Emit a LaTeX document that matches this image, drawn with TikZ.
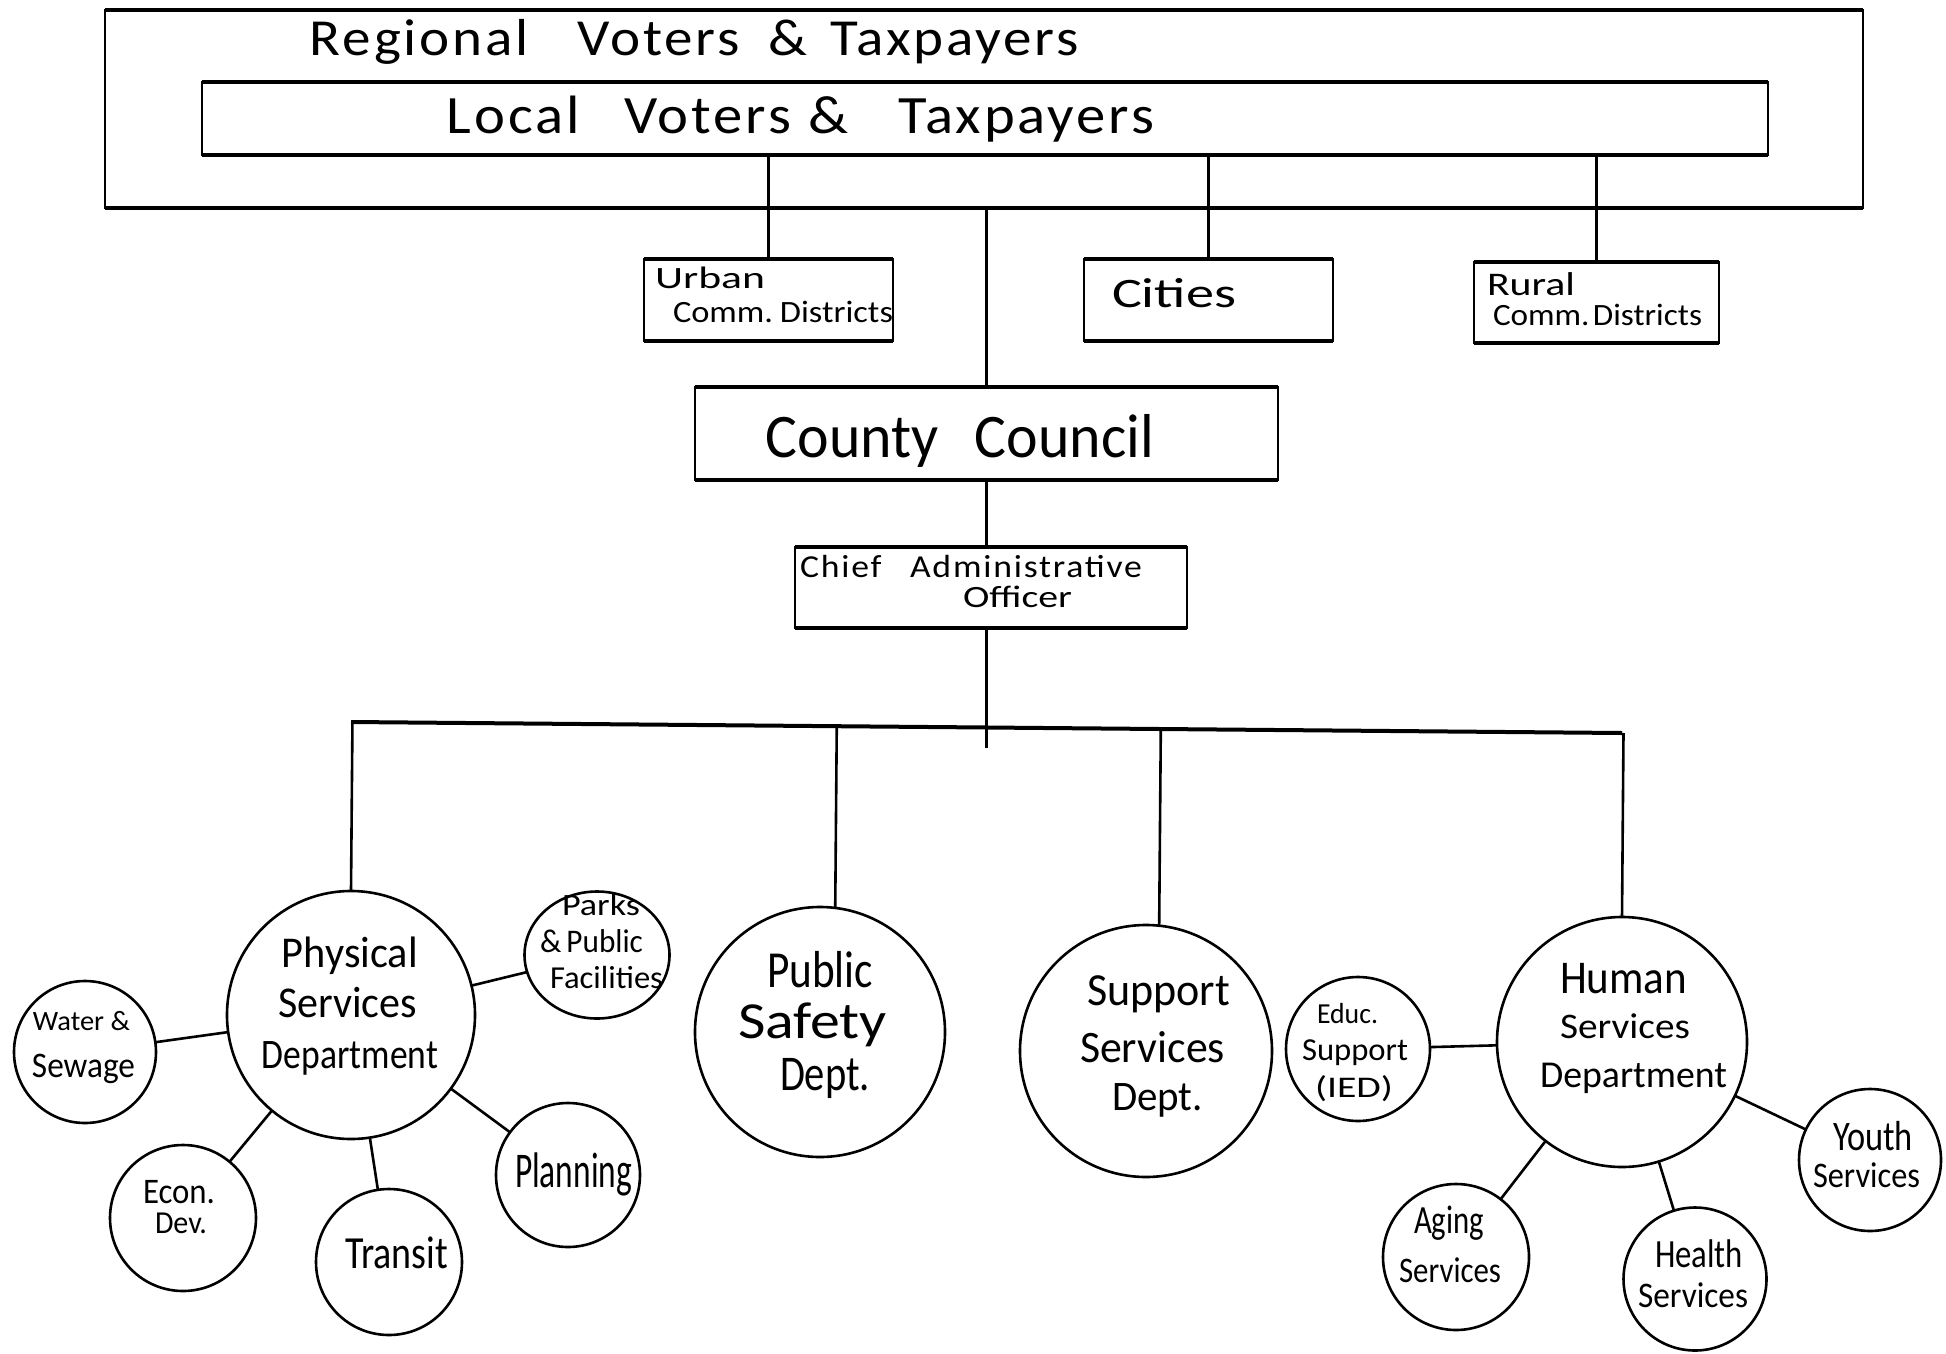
\documentclass[tikz,border=0pt]{standalone}
\usepackage{fontspec}
\setmainfont{Carlito}
\usepackage{graphicx}
\usetikzlibrary{calc,shapes.geometric}

% one handwritten line squeezed or stretched to a given width
\newcommand\fitw[2]{\resizebox{#1pt}{\height}{#2}}
% \hand{name}{x}{y of baseline}{width}{font size}{text}
\newcommand\hand[6]{\node[lbl, font=\fontsize{#5}{#5}\selectfont] (#1) at (#2,#3) {\fitw{#4}{#6}};}
% loosely spaced lettering for the long lines
\newcommand\airy[1]{{\addfontfeature{LetterSpace=5}#1}}

\tikzset{
  frame/.style={draw, line width=2pt, inner sep=0pt, outer sep=0pt},
  rim/.style={line width=4pt},
  bubble/.style={circle, draw, line width=2.6pt, inner sep=0pt, outer sep=0pt},
  oval/.style={ellipse, draw, line width=2.6pt, inner sep=0pt, outer sep=0pt},
  wire/.style={line width=2.6pt},
  busline/.style={line width=4pt},
  lbl/.style={anchor=base, inner sep=0pt, outer sep=0pt},
}

\begin{document}
\begin{tikzpicture}[x=1pt, y=-1pt]
\useasboundingbox[fill=white] (0,0) rectangle (1946,1354);

% ---------- electorate and local units ----------
\node[frame, minimum width=1758pt, minimum height=198pt] (outer) at (984,109) {};
\node[frame, minimum width=1566pt, minimum height=73pt] (inner) at (985,118.5) {};
\node[frame, minimum width=249pt, minimum height=82pt] (urban) at (768.5,299.5) {};
\node[frame, minimum width=249pt, minimum height=82pt] (cities) at (1208.5,300) {};
\node[frame, minimum width=245pt, minimum height=81pt] (rural) at (1596.5,302.5) {};
\node[frame, minimum width=583pt, minimum height=93pt] (council) at (986.5,433.5) {};
\node[frame, minimum width=392pt, minimum height=81pt] (cao) at (991,587.5) {};
\foreach \b in {outer,inner,urban,cities,rural,council,cao}
  \draw[rim] (\b.north west) -- (\b.north east) (\b.south west) -- (\b.south east);

\hand{regT}{694.5}{56}{769}{52}{\airy{Regional\hspace{.85em}Voters\hspace{.5em}\&\hspace{.4em}Taxpayers}}
\hand{locT}{800.5}{133}{707}{54}{\airy{Local\hspace{.75em}Voters\hspace{.3em}\&\hspace{.85em}Taxpayers}}
\hand{urbT1}{710}{288}{110}{31}{Urban}
\hand{urbT2}{783}{322}{220}{31}{Comm.\hspace{.2em}Districts}
\hand{citT}{1174}{307}{124}{42}{Cities}
\hand{rurT1}{1531}{295}{88}{33}{Rural}
\hand{rurT2}{1597.5}{325}{209}{31}{Comm.\hspace{.1em}Districts}
\hand{ccT}{960}{457}{388}{62}{County\hspace{.6em}Council}
\hand{caoT1}{971}{577}{342}{32}{\airy{Chief\hspace{.8em}Administrative}}
\hand{caoT2}{1017.5}{607}{109}{31}{Officer}

\draw[wire] (urban.north) -- (urban.north |- inner.south);
\draw[wire] (cities.north) -- (cities.north |- inner.south);
\draw[wire] (rural.north) -- (rural.north |- inner.south);
\draw[wire] (council.north) -- (council.north |- outer.south);
\draw[wire] (council.south) -- (council.south |- cao.north);

% ---------- departments ----------
\node[bubble, minimum size=248pt] (phys) at (351,1015) {};
\node[bubble, minimum size=250pt] (ps) at (820,1032) {};
\node[bubble, minimum size=252pt] (ss) at (1146,1051) {};
\node[bubble, minimum size=250pt] (human) at (1622,1042) {};

\coordinate (busL) at (351,722);
\coordinate (busR) at (1622,733);
\coordinate (caoTail) at (986.5,748);
\draw[busline] (busL) -- (busR);
\draw[wire] (cao.south -| council.south) -- (caoTail);
\draw[wire] (phys.north) -- ($(busL)!(phys.north)!(busR)$);
\draw[wire] (ps.83) -- ($(busL)!(ps.83)!(busR)$);
\draw[wire] (ss.84) -- ($(busL)!(ss.84)!(busR)$);
\draw[wire] (human.north) -- ($(busL)!(human.north)!(busR)$);

% ---------- divisions ----------
\node[bubble, minimum size=142pt] (water) at (85,1052) {};
\node[bubble, minimum size=146pt] (econ) at (183,1218) {};
\node[bubble, minimum size=146pt] (transit) at (389,1262) {};
\node[bubble, minimum size=144pt] (plan) at (568,1175) {};
\node[oval, minimum width=145pt, minimum height=127pt] (parks) at (597,955) {};
\node[bubble, minimum size=144pt] (educ) at (1358,1049) {};
\node[bubble, minimum size=146pt] (aging) at (1456,1257) {};
\node[bubble, minimum size=143pt] (health) at (1695,1279) {};
\node[bubble, minimum size=142pt] (youth) at (1870,1160) {};

\foreach \d in {water,econ,transit,plan,parks}
  \draw[wire] (phys) -- (\d);
\foreach \d in {educ,aging,health,youth}
  \draw[wire] (human) -- (\d);

% ---------- lettering in the circles ----------
\hand{physT1}{350}{967}{136}{44}{Physical}
\hand{physT2}{347.5}{1017}{139}{44}{Services}
\hand{physT3}{350}{1068}{176}{42}{Department}
\hand{watT1}{81.5}{1030}{97}{28}{Water \&}
\hand{watT2}{83.5}{1077}{103}{36}{Sewage}
\hand{ecoT1}{179}{1203}{72}{36}{Econ.}
\hand{ecoT2}{181}{1233}{52}{32}{Dev.}
\hand{traT}{396.5}{1268}{103}{46}{Transit}
\hand{parT1}{601}{915}{78}{31}{Parks}
\hand{parT2}{591.5}{952}{103}{33}{\&\,Public}
\hand{parT3}{606.5}{988}{113}{32}{Facilities}
\hand{plaT}{573.5}{1187}{117}{50}{Planning}
\hand{psT1}{820}{987}{106}{52}{Public}
\hand{psT2}{812.5}{1038}{149}{52}{Safety}
\hand{psT3}{825}{1090}{90}{50}{Dept.}
\hand{ssT1}{1158.5}{1005}{143}{46}{Support}
\hand{ssT2}{1152.5}{1062}{145}{45}{Services}
\hand{ssT3}{1157.5}{1110}{91}{42}{Dept.}
\hand{eduT1}{1347.5}{1023}{61}{29}{Educ.}
\hand{eduT2}{1355}{1060}{106}{32}{Support}
\hand{eduT3}{1354}{1097}{78}{30}{(IED)}
\hand{humT1}{1623.5}{993}{127}{47}{Human}
\hand{humT2}{1625}{1038}{130}{36}{Services}
\hand{humT3}{1633.5}{1087}{187}{38}{Department}
\hand{youT1}{1873}{1150}{80}{42}{Youth}
\hand{youT2}{1866.5}{1187}{107}{36}{Services}
\hand{heaT1}{1699}{1267}{88}{40}{Health}
\hand{heaT2}{1693}{1307}{110}{36}{Services}
\hand{agiT1}{1449}{1233}{70}{40}{Aging}
\hand{agiT2}{1450}{1282}{102}{36}{Services}
\end{tikzpicture}
\end{document}
